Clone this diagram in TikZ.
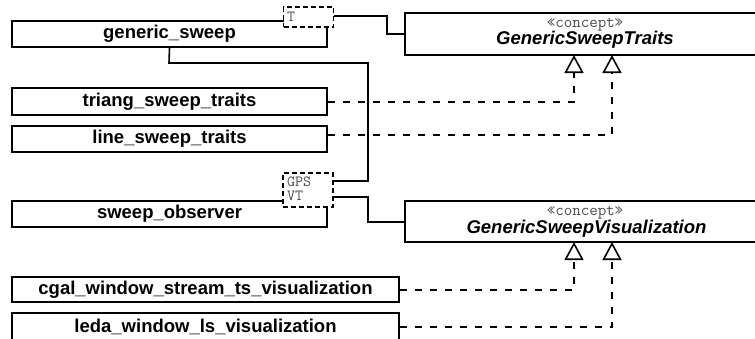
\documentclass[tikz,border=0pt]{standalone}
\usepackage{fontspec}
\setmainfont{Liberation Sans}
\usetikzlibrary{arrows.meta}
\begin{document}
\begin{tikzpicture}[x=1pt,y=-1pt,
  umlbox/.style={draw, line width=1.6pt, fill=white, inner sep=0pt,
    font=\fontsize{18.5pt}{20pt}\selectfont\bfseries},
  conceptbox/.style={draw, line width=1.6pt, fill=white, inner sep=0pt},
  tmplbox/.style={draw, line width=1.4pt, dash pattern=on 5pt off 3pt, fill=white,
    inner sep=0pt},
  tmpltext/.style={inner sep=0pt, anchor=base west,
    font=\fontsize{15.5pt}{16pt}\selectfont\ttfamily, text=black!70},
  stereo/.style={inner sep=0pt, anchor=base,
    font=\fontsize{16.5pt}{17pt}\selectfont\ttfamily, text=black!70},
  conceptname/.style={inner sep=0pt, anchor=base,
    font=\fontsize{18.5pt}{20pt}\selectfont\bfseries\itshape},
  assoc/.style={line width=1.6pt},
  realize/.style={line width=1.6pt, dash pattern=on 7.5pt off 7.5pt,
    -{Triangle[open, length=18pt, width=19pt, line width=1.6pt]}}
]
\useasboundingbox (0,0) rectangle (755,338);
\clip (0,0) rectangle (755,338);

% class boxes
\node[umlbox, minimum width=315pt, minimum height=26pt] (gs) at (169.5,34) {generic\_sweep};
\node[umlbox, minimum width=315pt, minimum height=27pt] (tst) at (169.5,101.5) {triang\_sweep\_traits};
\node[umlbox, minimum width=315pt, minimum height=26pt] (lst) at (169.5,139) {line\_sweep\_traits};
\node[umlbox, minimum width=315pt, minimum height=26pt] (so) at (169.5,214) {sweep\_observer};
\node[umlbox, minimum width=387pt, minimum height=25pt] (cgal) at (205.5,289.5) {cgal\_window\_stream\_ts\_visualization};
\node[umlbox, minimum width=387pt, minimum height=28pt] (leda) at (205.5,327) {leda\_window\_ls\_visualization};

% template parameter boxes
\node[tmplbox, minimum width=50pt, minimum height=20pt] (T) at (308.5,17) {};
\node[tmpltext] (Tlbl) at (287,21.5) {T};
\node[tmplbox, minimum width=50pt, minimum height=34pt] (GPS) at (308,190) {};
\node[tmpltext] (GPSlbl) at (287,186) {GPS};
\node[tmpltext] (VTlbl) at (287,200.5) {VT};

% concept boxes
\node[conceptbox, minimum width=360pt, minimum height=42pt] (gst) at (585,34) {};
\node[stereo] (gstst) at (585,27) {«concept»};
\node[conceptname] (gstname) at (585,44) {GenericSweepTraits};
\node[conceptbox, minimum width=360pt, minimum height=41pt] (gsv) at (585,221.5) {};
\node[stereo] (gsvst) at (585,215) {«concept»};
\node[conceptname] (gsvname) at (586.5,233) {GenericSweepVisualization};

% associations
\draw[assoc] (T.east |- 0,16) -- (387,16) -- (387,34) -- (gst.west);
\draw[assoc] (gs.south) -- (169,63) -- (368,63) -- (368,181) -- (GPS.east |- 0,181);
\draw[assoc] (GPS.east |- 0,197) -- (368,197) -- (368,222) -- (gsv.west |- 0,222);

% realizations
\draw[realize] (tst.east |- 0,102) -- (574,102) -- (574,55);
\draw[realize] (lst.east |- 0,135) -- (612,135) -- (612,55);
\draw[realize] (cgal.east |- 0,290) -- (574,290) -- (574,242);
\draw[realize] (leda.east) -- (612,327) -- (612,242);
\end{tikzpicture}
\end{document}
